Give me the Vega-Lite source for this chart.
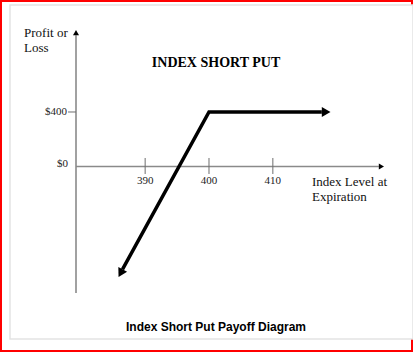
{
  "$schema": "https://vega.github.io/schema/vega-lite/v6.json",
  "width": 413,
  "height": 352,
  "autosize": {"type": "fit", "contains": "padding"},
  "padding": 0,
  "background": "white",
  "config": {"view": {"stroke": "#ff0000", "strokeWidth": 4}},
  "layer": [
    {
      "data": {"values": [{"x": 368.83, "x2": 431.95, "y": 1185.3, "y2": -1266}]},
      "mark": {"type": "rect", "fill": "white", "stroke": "#e3e3e3", "strokeWidth": 1.5, "clip": true},
      "encoding": {
        "x": {"field": "x", "type": "quantitative", "scale": {"domain": [367.267, 431.95], "nice": false, "zero": false}, "axis": null},
        "x2": {"field": "x2"},
        "y": {"field": "y", "type": "quantitative", "scale": {"domain": [-1361.5, 1222.0], "nice": false, "zero": false}, "axis": null},
        "y2": {"field": "y2"}
      }
    },
    {
      "data": {"values": [
        {"x": 379.17, "x2": 379.17, "y": 963.7, "y2": -928.4},
        {"x": 379.17, "x2": 426.6, "y": 0, "y2": 0}
      ]},
      "mark": {"type": "rule", "color": "#8a8a8a", "strokeWidth": 1.6},
      "encoding": {
        "x": {"field": "x", "type": "quantitative", "scale": {"domain": [367.267, 431.95], "nice": false, "zero": false}, "axis": null},
        "x2": {"field": "x2"},
        "y": {"field": "y", "type": "quantitative", "scale": {"domain": [-1361.5, 1222.0], "nice": false, "zero": false}, "axis": null},
        "y2": {"field": "y2"}
      }
    },
    {
      "data": {"values": [
        {"x": 377.92, "x2": 379.17, "y": 400, "y2": 400},
        {"x": 390, "x2": 390, "y": 62.4, "y2": -55.0},
        {"x": 400, "x2": 400, "y": 62.4, "y2": -55.0},
        {"x": 410, "x2": 410, "y": 62.4, "y2": -55.0}
      ]},
      "mark": {"type": "rule", "color": "#6e6e6e", "strokeWidth": 1},
      "encoding": {
        "x": {"field": "x", "type": "quantitative", "scale": {"domain": [367.267, 431.95], "nice": false, "zero": false}, "axis": null},
        "x2": {"field": "x2"},
        "y": {"field": "y", "type": "quantitative", "scale": {"domain": [-1361.5, 1222.0], "nice": false, "zero": false}, "axis": null},
        "y2": {"field": "y2"}
      }
    },
    {
      "data": {"values": [
        {"x": 386.45, "y": -755.2},
        {"x": 400, "y": 400},
        {"x": 417.67, "y": 400}
      ]},
      "mark": {"type": "line", "color": "black", "strokeWidth": 3.5, "strokeJoin": "miter"},
      "encoding": {
        "x": {"field": "x", "type": "quantitative", "scale": {"domain": [367.267, 431.95], "nice": false, "zero": false}, "axis": null},
        "y": {"field": "y", "type": "quantitative", "scale": {"domain": [-1361.5, 1222.0], "nice": false, "zero": false}, "axis": null}
      }
    },
    {
      "data": {"values": [{"x": 418.35, "y": 400}]},
      "mark": {"type": "point", "shape": "triangle-right", "size": 100, "filled": true, "color": "black", "opacity": 1, "strokeWidth": 0},
      "encoding": {
        "x": {"field": "x", "type": "quantitative", "scale": {"domain": [367.267, 431.95], "nice": false, "zero": false}, "axis": null},
        "y": {"field": "y", "type": "quantitative", "scale": {"domain": [-1361.5, 1222.0], "nice": false, "zero": false}, "axis": null}
      }
    },
    {
      "data": {"values": [{"x": 386.16, "y": -783.1}]},
      "mark": {"type": "point", "shape": "triangle-up", "angle": 208.75, "size": 100, "filled": true, "color": "black", "opacity": 1, "strokeWidth": 0},
      "encoding": {
        "x": {"field": "x", "type": "quantitative", "scale": {"domain": [367.267, 431.95], "nice": false, "zero": false}, "axis": null},
        "y": {"field": "y", "type": "quantitative", "scale": {"domain": [-1361.5, 1222.0], "nice": false, "zero": false}, "axis": null}
      }
    },
    {
      "data": {"values": [{"x": 427.0, "y": 0}]},
      "mark": {"type": "point", "shape": "triangle-right", "size": 36, "filled": true, "color": "black", "opacity": 1, "strokeWidth": 0},
      "encoding": {
        "x": {"field": "x", "type": "quantitative", "scale": {"domain": [367.267, 431.95], "nice": false, "zero": false}, "axis": null},
        "y": {"field": "y", "type": "quantitative", "scale": {"domain": [-1361.5, 1222.0], "nice": false, "zero": false}, "axis": null}
      }
    },
    {
      "data": {"values": [{"x": 379.17, "y": 982.8}]},
      "mark": {"type": "point", "shape": "triangle-up", "size": 36, "filled": true, "color": "black", "opacity": 1, "strokeWidth": 0},
      "encoding": {
        "x": {"field": "x", "type": "quantitative", "scale": {"domain": [367.267, 431.95], "nice": false, "zero": false}, "axis": null},
        "y": {"field": "y", "type": "quantitative", "scale": {"domain": [-1361.5, 1222.0], "nice": false, "zero": false}, "axis": null}
      }
    },
    {
      "data": {"values": [
        {"x": 377.76, "y": 400, "label": "$400"},
        {"x": 377.92, "y": 18.3, "label": "$0"}
      ]},
      "mark": {"type": "text", "align": "right", "baseline": "middle", "font": "Liberation Serif", "fontSize": 11, "color": "#222"},
      "encoding": {
        "x": {"field": "x", "type": "quantitative", "scale": {"domain": [367.267, 431.95], "nice": false, "zero": false}, "axis": null},
        "y": {"field": "y", "type": "quantitative", "scale": {"domain": [-1361.5, 1222.0], "nice": false, "zero": false}, "axis": null},
        "text": {"field": "label"}
      }
    },
    {
      "data": {"values": [
        {"x": 390, "y": -110.1, "label": "390"},
        {"x": 400, "y": -110.1, "label": "400"},
        {"x": 410, "y": -110.1, "label": "410"}
      ]},
      "mark": {"type": "text", "align": "center", "baseline": "middle", "font": "Liberation Serif", "fontSize": 11, "color": "#222"},
      "encoding": {
        "x": {"field": "x", "type": "quantitative", "scale": {"domain": [367.267, 431.95], "nice": false, "zero": false}, "axis": null},
        "y": {"field": "y", "type": "quantitative", "scale": {"domain": [-1361.5, 1222.0], "nice": false, "zero": false}, "axis": null},
        "text": {"field": "label"}
      }
    },
    {
      "data": {"values": [
        {"x": 416.13, "y": -113.8, "label": "Index Level at"},
        {"x": 416.13, "y": -223.9, "label": "Expiration"}
      ]},
      "mark": {"type": "text", "align": "left", "baseline": "middle", "font": "Liberation Serif", "fontSize": 13, "color": "#111"},
      "encoding": {
        "x": {"field": "x", "type": "quantitative", "scale": {"domain": [367.267, 431.95], "nice": false, "zero": false}, "axis": null},
        "y": {"field": "y", "type": "quantitative", "scale": {"domain": [-1361.5, 1222.0], "nice": false, "zero": false}, "axis": null},
        "text": {"field": "label"}
      }
    },
    {
      "data": {"values": [
        {"x": 371.03, "y": 979.8, "label": "Profit or"},
        {"x": 371.03, "y": 869.7, "label": "Loss"}
      ]},
      "mark": {"type": "text", "align": "left", "baseline": "middle", "font": "Liberation Serif", "fontSize": 13, "color": "#111"},
      "encoding": {
        "x": {"field": "x", "type": "quantitative", "scale": {"domain": [367.267, 431.95], "nice": false, "zero": false}, "axis": null},
        "y": {"field": "y", "type": "quantitative", "scale": {"domain": [-1361.5, 1222.0], "nice": false, "zero": false}, "axis": null},
        "text": {"field": "label"}
      }
    },
    {
      "data": {"values": [{"x": 401.1, "y": 759.6, "label": "INDEX SHORT PUT"}]},
      "mark": {"type": "text", "align": "center", "baseline": "middle", "font": "Liberation Serif", "fontSize": 14, "fontWeight": "bold", "color": "black"},
      "encoding": {
        "x": {"field": "x", "type": "quantitative", "scale": {"domain": [367.267, 431.95], "nice": false, "zero": false}, "axis": null},
        "y": {"field": "y", "type": "quantitative", "scale": {"domain": [-1361.5, 1222.0], "nice": false, "zero": false}, "axis": null},
        "text": {"field": "label"}
      }
    },
    {
      "data": {"values": [{"x": 401.1, "y": -1178, "label": "Index Short Put Payoff Diagram"}]},
      "mark": {"type": "text", "align": "center", "baseline": "middle", "font": "Liberation Sans", "fontSize": 12, "fontWeight": "bold", "color": "black"},
      "encoding": {
        "x": {"field": "x", "type": "quantitative", "scale": {"domain": [367.267, 431.95], "nice": false, "zero": false}, "axis": null},
        "y": {"field": "y", "type": "quantitative", "scale": {"domain": [-1361.5, 1222.0], "nice": false, "zero": false}, "axis": null},
        "text": {"field": "label"}
      }
    }
  ]
}
